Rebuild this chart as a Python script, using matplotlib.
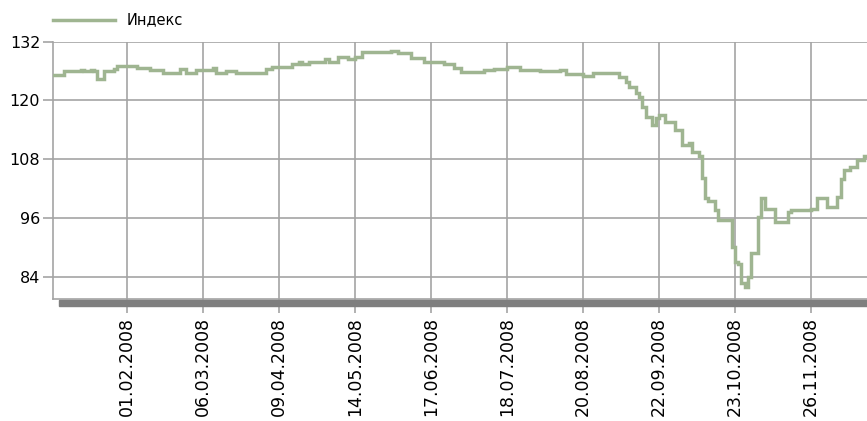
import matplotlib
matplotlib.use("Agg")
import matplotlib.pyplot as plt
from matplotlib.patches import Rectangle

# trading-day index and index value (step line)
days = [0, 3, 8, 9, 11, 12, 13, 15, 18, 19, 25, 29, 33, 38, 40, 43, 48, 49, 52, 55,
        64, 66, 72, 74, 75, 77, 82, 83, 86, 89, 91, 93, 102, 104, 108, 112, 118, 121,
        123, 130, 133, 137, 141, 147, 153, 155, 160, 163, 171, 173, 174, 176, 177, 178,
        179, 181, 182, 183, 185, 188, 190, 192, 193, 195, 196, 197, 198, 200, 201, 205,
        206, 207, 208, 209, 210, 211, 213, 214, 215, 218, 222, 223, 229, 231, 234, 237,
        238, 239, 241, 243, 245, 246]
values = [125.2, 125.9, 126.3, 125.9, 126.3, 125.9, 124.3, 125.9, 126.5, 127.0, 126.7,
          126.2, 125.5, 126.5, 125.5, 126.2, 126.7, 125.5, 125.9, 125.5,
          126.5, 126.9, 127.4, 127.9, 127.4, 127.9, 128.4, 127.9, 128.8, 128.4, 128.9,
          129.9, 130.0, 129.6, 128.6, 127.9, 127.4, 126.7,
          125.7, 126.2, 126.5, 126.9, 126.3, 125.9, 126.2, 125.4, 125.0, 125.5, 124.8,
          123.8, 122.8, 121.5, 120.8, 118.7,
          116.7, 115.0, 116.4, 117.0, 115.7, 114.0, 110.9, 111.3, 109.6, 108.7, 104.3,
          100.1, 99.6, 97.7, 95.6, 90.2,
          87.2, 86.8, 82.8, 82.1, 84.1, 88.9, 96.3, 100.1, 98.0, 95.3, 97.3, 97.7, 98.0,
          100.1, 98.4, 100.4,
          104.1, 105.8, 106.5, 107.9, 108.7, 108.7]

tick_days = [22, 45, 68, 91, 114, 137, 160, 183, 206, 229]
tick_labels = ['01.02.2008', '06.03.2008', '09.04.2008', '14.05.2008', '17.06.2008',
               '18.07.2008', '20.08.2008', '22.09.2008', '23.10.2008', '26.11.2008']
y_ticks = [84, 96, 108, 120, 132]

W, H = 867, 421
fig = plt.figure(figsize=(W / 100, H / 100), dpi=100)
ax = fig.add_axes([52.7 / W, 1 - 299 / H, 1 - 52.7 / W, (299 - 41.5) / H])

line_col = '#9fb591'
grid_col = '#a4a4a4'

ax.plot(days, values, drawstyle='steps-post', color=line_col, lw=2.5,
        solid_joinstyle='miter', label='Индекс', zorder=3)

ax.set_xlim(-0.5, 246)
ax.set_ylim(79.6, 132)
ax.set_xticks(tick_days)
ax.set_xticklabels(tick_labels, rotation=90, va='top', ha='center')
ax.set_yticks(y_ticks)
ax.grid(True, color=grid_col, lw=1.2)
ax.set_axisbelow(True)

for s in ['top', 'right']:
    ax.spines[s].set_visible(False)
for s in ['left', 'bottom']:
    ax.spines[s].set_color(grid_col)
    ax.spines[s].set_linewidth(1.2)

ax.tick_params(axis='y', length=7, width=1.2, color=grid_col, pad=2, labelsize=11.5)
ax.tick_params(axis='x', length=10, width=1.2, color=grid_col, pad=3, labelsize=12.5)

# shadow bar under the plot
fig.patches.append(Rectangle((59 / W, 1 - 306 / H), 1, 6.5 / H, transform=fig.transFigure,
                             color='#7f7f7f', zorder=0))

ax.legend(loc='center left', bbox_to_anchor=(0.0, 1.083), frameon=False, fontsize=10.5,
          handlelength=4.25, handletextpad=0.8, borderaxespad=0, borderpad=0)

fig.savefig('out.png', dpi=100)
